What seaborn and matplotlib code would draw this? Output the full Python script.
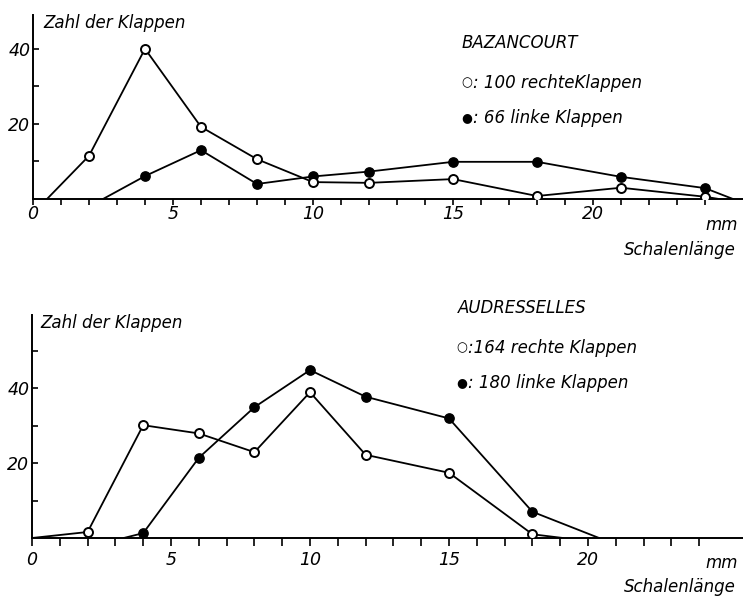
import matplotlib
matplotlib.use("Agg")
import matplotlib.pyplot as plt
import seaborn as sns
import pandas as pd
from matplotlib.ticker import FixedLocator, FixedFormatter

# ---------------- data ----------------
# BAZANCOURT (top)
baz_right_x = [0.5, 2, 4, 6, 8, 10, 12, 15, 18, 21, 24, 24.5]
baz_right_y = [0, 11.5, 40, 19.2, 10.6, 4.5, 4.3, 5.3, 0.8, 3.0, 0.6, 0]
baz_left_x = [2.5, 4, 6, 8, 10, 12, 15, 18, 21, 24, 25]
baz_left_y = [0, 6.1, 13.0, 4.0, 6.0, 7.3, 9.9, 9.9, 5.9, 2.9, 0]

# AUDRESSELLES (bottom)
aud_right_x = [0, 2, 4, 6, 8, 10, 12, 15, 18, 19.1]
aud_right_y = [0, 1.6, 30.1, 27.9, 22.9, 38.9, 22.2, 17.4, 1.0, 0]
aud_left_x = [3.3, 4, 6, 8, 10, 12, 15, 18, 20.4]
aud_left_y = [0, 1.3, 21.4, 34.9, 44.8, 37.7, 31.9, 7.0, 0]

x_tick_labels = ["0", "5", "10", "15", "20"]
y_tick_labels = ["20", "40"]

title_top = "BAZANCOURT"
legend_top = [": 100 rechteKlappen", ": 66 linke Klappen"]
title_bot = "AUDRESSELLES"
legend_bot = [":164 rechte Klappen", ": 180 linke Klappen"]
ylabel = "Zahl der Klappen"
xunit = "mm"
xlabel = "Schalenlänge"

# ---------------- style ----------------
sns.set_style("ticks")
plt.rcParams["font.family"] = ["DejaVu Sans"]
plt.rcParams["font.style"] = "italic"
plt.rcParams["font.size"] = 12
plt.rcParams["text.color"] = "black"
plt.rcParams["xtick.color"] = "black"
plt.rcParams["ytick.color"] = "black"
plt.rcParams["xtick.labelcolor"] = "black"
plt.rcParams["ytick.labelcolor"] = "black"

W, H = 743, 601
fig = plt.figure(figsize=(W / 100, H / 100), dpi=100)


def fx(px):
    return px / W


def fy(py):
    return 1 - py / H


def draw_panel(ax, rx, ry, lx, ly, xmax, ymax, yminor, tick_len, tick_pad):
    df_r = pd.DataFrame({"mm": rx, "n": ry})
    df_l = pd.DataFrame({"mm": lx, "n": ly})
    sns.lineplot(data=df_r, x="mm", y="n", color="black", lw=1.3,
                 estimator=None, sort=False, ax=ax, zorder=2)
    sns.lineplot(data=df_l, x="mm", y="n", color="black", lw=1.3,
                 estimator=None, sort=False, ax=ax, zorder=2)
    sns.scatterplot(data=df_l.iloc[1:-1], x="mm", y="n", color="black",
                    edgecolor="black", s=45, linewidth=1.0, ax=ax, zorder=3)
    sns.scatterplot(data=df_r.iloc[1:-1], x="mm", y="n", color="white",
                    edgecolor="black", s=42, linewidth=1.4, ax=ax, zorder=4)
    ax.set_xlim(0, xmax)
    ax.set_ylim(0, ymax)
    for s in ("top", "right"):
        ax.spines[s].set_visible(False)
    for s in ("left", "bottom"):
        ax.spines[s].set_linewidth(1.4)
        ax.spines[s].set_color("black")
    ax.set_xlabel("")
    ax.set_ylabel("")
    ax.xaxis.set_major_locator(FixedLocator([0, 5, 10, 15, 20]))
    ax.xaxis.set_major_formatter(FixedFormatter(x_tick_labels))
    ax.xaxis.set_minor_locator(FixedLocator([i for i in range(1, 25) if i % 5]))
    ax.yaxis.set_major_locator(FixedLocator([20, 40]))
    ax.yaxis.set_major_formatter(FixedFormatter(y_tick_labels))
    ax.yaxis.set_minor_locator(FixedLocator(yminor))
    ax.tick_params(axis="x", which="both", direction="out", length=tick_len,
                   width=1.2, color="black", pad=tick_pad, labelsize=12.5)
    ax.tick_params(axis="y", which="both", direction="in", length=4,
                   width=1.2, color="black", pad=2, labelsize=12.5)
    ax.patch.set_alpha(0)


ax1 = fig.add_axes([fx(33), fy(199), fx(25.4 * 28), 184 / H])
draw_panel(ax1, baz_right_x, baz_right_y, baz_left_x, baz_left_y,
           25.4, 49, [10, 30], 4, 0.5)

ax2 = fig.add_axes([fx(32), fy(538), fx(25.6 * 27.8), 223 / H])
draw_panel(ax2, aud_right_x, aud_right_y, aud_left_x, aud_left_y,
           25.6, 59.5, [10, 30, 50], 5.5, 4)

fs = 12
sym = dict(fontsize=9, va="center", ha="center", style="normal", color="black")
# top texts
fig.text(fx(43), fy(28), ylabel, fontsize=fs, va="baseline")
fig.text(fx(462), fy(48), title_top, fontsize=fs, va="baseline")
fig.text(fx(467), fy(83), "○", **sym)
fig.text(fx(473), fy(88), legend_top[0], fontsize=fs, va="baseline")
fig.text(fx(467), fy(118), "●", **sym)
fig.text(fx(473), fy(123), legend_top[1], fontsize=fs, va="baseline")
fig.text(fx(738), fy(230), xunit, fontsize=fs, va="baseline", ha="right")
fig.text(fx(736), fy(255), xlabel, fontsize=fs, va="baseline", ha="right")

# bottom texts
fig.text(fx(40), fy(328), ylabel, fontsize=fs, va="baseline")
fig.text(fx(458), fy(313), title_bot, fontsize=fs, va="baseline")
fig.text(fx(462), fy(348), "○", **sym)
fig.text(fx(468), fy(353), legend_bot[0], fontsize=fs, va="baseline")
fig.text(fx(462), fy(383), "●", **sym)
fig.text(fx(468), fy(388), legend_bot[1], fontsize=fs, va="baseline")
fig.text(fx(738), fy(568), xunit, fontsize=fs, va="baseline", ha="right")
fig.text(fx(736), fy(592), xlabel, fontsize=fs, va="baseline", ha="right")

fig.savefig("out.png", dpi=100, facecolor="white")
